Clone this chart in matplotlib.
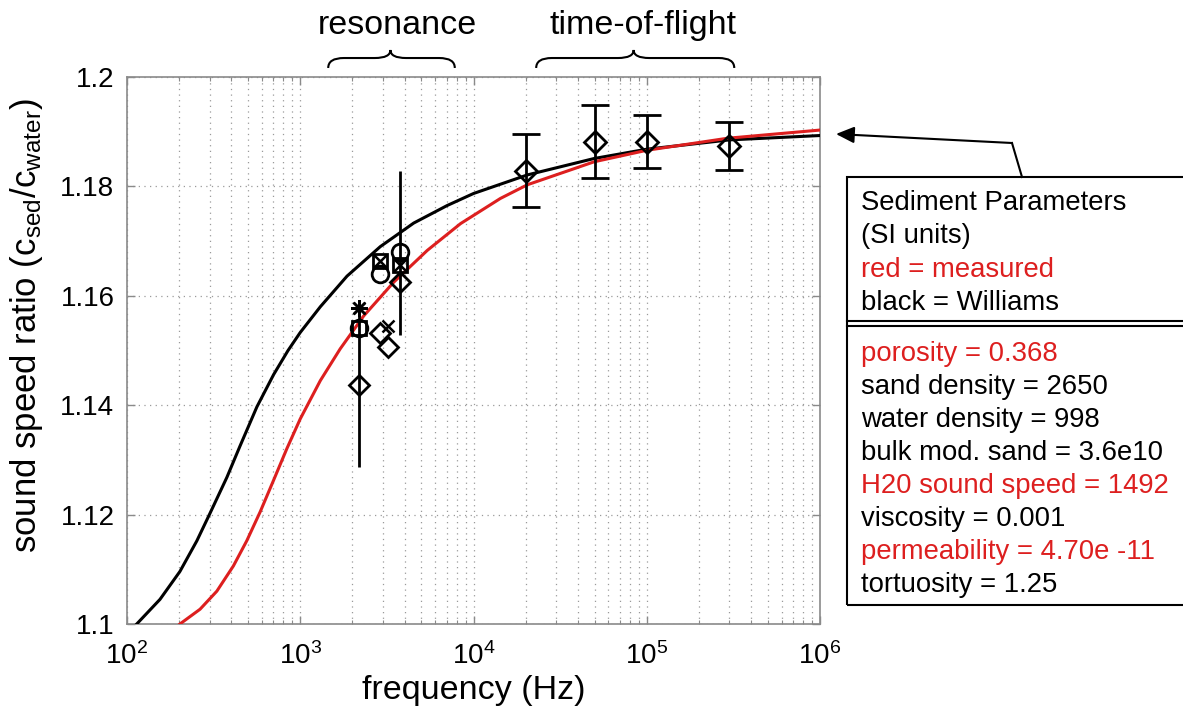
import numpy as np
import matplotlib
matplotlib.use("Agg")
import matplotlib.pyplot as plt
from matplotlib.path import Path
from matplotlib.patches import PathPatch, Rectangle, FancyArrowPatch
from matplotlib.lines import Line2D
import matplotlib.transforms as mtransforms
from matplotlib.ticker import LogLocator, FixedLocator, NullFormatter

plt.rcParams['font.family'] = ['Liberation Sans', 'DejaVu Sans']
plt.rcParams['mathtext.fontset'] = 'custom'
plt.rcParams['mathtext.rm'] = 'Liberation Sans'
plt.rcParams['mathtext.it'] = 'Liberation Sans:italic'
plt.rcParams['mathtext.bf'] = 'Liberation Sans:bold'

# ---------------- data ----------------
# Williams model curve (black)
black_freq = [113.8, 155, 202, 253, 302, 377, 450, 562, 702, 850, 1000, 1306,
              1862, 2900, 4518, 7043, 10000, 20470, 49700, 1e5, 3e5, 1e6]
black_ratio = [1.1000, 1.1045, 1.1096, 1.1152, 1.1203, 1.1268, 1.1326, 1.1397,
               1.1456, 1.1500, 1.1533, 1.1580, 1.1636, 1.1690, 1.1733, 1.1765,
               1.1787, 1.1821, 1.1851, 1.1868, 1.1885, 1.1893]
# measured-parameter curve (red)
red_freq = [202, 264, 330, 411, 491, 587, 702, 838, 1000, 1306, 1700, 2321,
            3466, 5410, 8422, 14300, 20470, 49700, 1e5, 2.92e5, 1e6]
red_ratio = [1.1000, 1.1027, 1.1060, 1.1106, 1.1152, 1.1205, 1.1263, 1.1321,
             1.1375, 1.1445, 1.1503, 1.1563, 1.1625, 1.1683, 1.1732, 1.1778,
             1.1803, 1.1845, 1.1866, 1.1888, 1.1903]

# time-of-flight measurements (diamonds with error bars)
tof_freq = [2e4, 5e4, 1e5, 3e5]
tof_ratio = [1.1829, 1.1882, 1.1882, 1.1874]
tof_err = [0.0066, 0.0067, 0.0049, 0.0044]

# resonance measurements with error bars
res_err_freq = [2173, 3788]
res_err_ratio = [1.1437, 1.1678]
res_err = [0.0150, 0.0150]

# resonance measurement markers
diamond_freq = [2173, 2900, 3226, 3788]
diamond_ratio = [1.1437, 1.1532, 1.1506, 1.1625]
circle_freq = [2173, 2900, 3788]
circle_ratio = [1.1541, 1.1640, 1.1680]
square_freq = [2173, 2900, 3788]
square_ratio = [1.1541, 1.1664, 1.1656]
xmark_freq = [2900, 3226, 3788]
xmark_ratio = [1.1664, 1.1545, 1.1656]
star_freq = [2173]
star_ratio = [1.1578]

# braces over the frequency bands
brace_labels = ['resonance', 'time-of-flight']
brace_spans = [(1450, 7800), (23000, 320000)]
brace_tips = [3315, 84000]
brace_text_x = [3650, 95000]

yticks = [1.1, 1.12, 1.14, 1.16, 1.18, 1.2]
ytick_labels = ['1.1', '1.12', '1.14', '1.16', '1.18', '1.2']

box_lines_top = [('Sediment Parameters', 'k'), ('(SI units)', 'k'),
                 ('red = measured', 'red'), ('black = Williams', 'k')]
box_lines_bottom = [('porosity = 0.368', 'red'), ('sand density = 2650', 'k'),
                    ('water density = 998', 'k'), ('bulk mod. sand = 3.6e10', 'k'),
                    ('H20 sound speed = 1492', 'red'), ('viscosity = 0.001', 'k'),
                    ('permeability = 4.70e -11', 'red'), ('tortuosity = 1.25', 'k')]

RED = '#dd1f1f'
GRAY = '#8a8a8a'

W, H = 1183, 710
fig = plt.figure(figsize=(W / 100, H / 100), dpi=100)
ax = fig.add_axes([127 / W, 1 - 624 / H, (820 - 127) / W, (624 - 77) / H])

ax.set_xscale('log')
ax.set_xlim(1e2, 1e6)
ax.set_ylim(1.1, 1.2)

# grid
ax.xaxis.set_major_locator(LogLocator(base=10, numticks=10))
ax.xaxis.set_minor_locator(LogLocator(base=10, subs=np.arange(2, 10), numticks=20))
ax.xaxis.set_minor_formatter(NullFormatter())
ax.yaxis.set_major_locator(FixedLocator(yticks))
ax.set_yticklabels(ytick_labels)
ax.grid(True, which='major', axis='both', color='#9a9a9a', lw=0.9, ls=(0, (1, 3.5)))
ax.grid(True, which='minor', axis='x', color='#9a9a9a', lw=0.9, ls=(0, (1, 3.5)))

# curves
ax.plot(black_freq, black_ratio, color='k', lw=2.2, zorder=3, solid_joinstyle='round')
ax.plot(red_freq, red_ratio, color=RED, lw=2.2, zorder=3, solid_joinstyle='round')

# error bars
ax.errorbar(tof_freq, tof_ratio, yerr=tof_err, fmt='D', ms=11, mfc='none', mec='k',
            mew=2, ecolor='k', elinewidth=2, capsize=10, capthick=2, zorder=4)
ax.errorbar(res_err_freq, res_err_ratio, yerr=res_err, fmt='none', ecolor='k',
            elinewidth=2, capsize=0, zorder=4)

ax.plot(diamond_freq, diamond_ratio, 'D', ms=10, mfc='none', mec='k', mew=2, zorder=5)
ax.plot(circle_freq, circle_ratio, 'o', ms=12, mfc='none', mec='k', mew=2, zorder=5)
ax.plot(square_freq, square_ratio, 's', ms=10, mfc='none', mec='k', mew=2, zorder=5)
ax.plot(xmark_freq, xmark_ratio, 'x', ms=8, mec='k', mew=1.8, zorder=5)
ax.plot(star_freq, star_ratio, marker=(8, 2, 0), ms=12, mec='k', mew=1.8, ls='none', zorder=5)

# axes styling
for s in ax.spines.values():
    s.set_color(GRAY)
    s.set_linewidth(1.2)
ax.tick_params(which='both', direction='in', top=True, right=True, color=GRAY)
ax.tick_params(which='major', length=6, width=1.0, labelsize=20)
ax.tick_params(which='minor', length=3, width=0.8)
ax.tick_params(axis='x', pad=13)
ax.tick_params(axis='y', pad=9)

ax.set_xlabel('frequency (Hz)', fontsize=24.5, labelpad=4)
ax.set_ylabel(r'sound speed ratio (c$_{\mathregular{sed}}$/c$_{\mathregular{water}}$)',
              fontsize=25)
ax.yaxis.set_label_coords(-0.118, 0.545)

# braces above the axes
trans = mtransforms.blended_transform_factory(ax.transData, ax.transAxes)
y0, y1, y2 = 1.0165, 1.0347, 1.0494
for (L, R), M, lab, tx in zip(brace_spans, brace_tips, brace_labels, brace_text_x):
    d = 10 ** 0.09
    verts = [(L, y0), (L, y1), (L * d, y1), (M / d, y1), (M, y1), (M, y2),
             (M, y1), (M * d, y1), (R / d, y1), (R, y1), (R, y0)]
    codes = [Path.MOVETO, Path.CURVE3, Path.CURVE3, Path.LINETO, Path.CURVE3, Path.CURVE3,
             Path.CURVE3, Path.CURVE3, Path.LINETO, Path.CURVE3, Path.CURVE3]
    ax.add_patch(PathPatch(Path(verts, codes), transform=trans, fc='none', ec='k',
                           lw=1.5, clip_on=False))
    ax.text(tx, 1.095, lab, transform=trans, ha='center', va='center', fontsize=24.5,
            clip_on=False)

# parameter box
fx = lambda px: px / W
fy = lambda py: 1 - py / H
fig.patches.append(Rectangle((fx(847), fy(605)), fx(1200) - fx(847), fy(177) - fy(605),
                             transform=fig.transFigure, fill=False, ec='k', lw=1.5))
for py in (321, 326):
    fig.lines.append(Line2D([fx(847), fx(1200)], [fy(py), fy(py)],
                            transform=fig.transFigure, color='k', lw=1.5))
for i, (t, c) in enumerate(box_lines_top):
    fig.text(fx(861), fy(210 + 33.3 * i), t, color=RED if c == 'red' else 'k',
             fontsize=19.8, va='baseline', ha='left')
for i, (t, c) in enumerate(box_lines_bottom):
    fig.text(fx(861), fy(361 + 33.0 * i), t, color=RED if c == 'red' else 'k',
             fontsize=19.8, va='baseline', ha='left')

# arrow from box to the curves' high-frequency end
fig.lines.append(Line2D([fx(1022), fx(1012)], [fy(177), fy(143)],
                        transform=fig.transFigure, color='k', lw=1.5))
fig.add_artist(FancyArrowPatch(
    (fx(1012), fy(143)), (fx(836), fy(134)), transform=fig.transFigure,
    arrowstyle='-|>,head_length=0.55,head_width=0.25', mutation_scale=20,
    color='k', lw=1.5, shrinkA=0, shrinkB=0))

fig.savefig('out.png', dpi=100)
